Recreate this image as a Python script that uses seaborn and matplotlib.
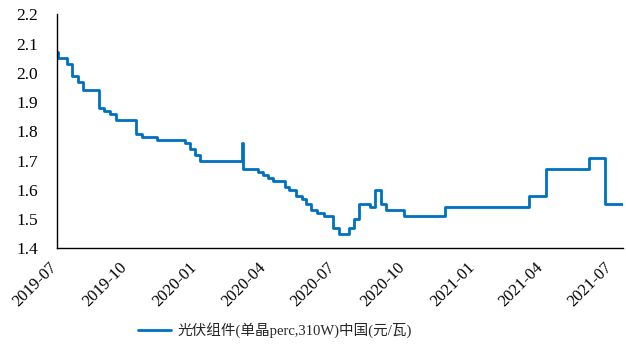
import matplotlib
matplotlib.use("Agg")
import matplotlib.pyplot as plt
import matplotlib.dates as mdates
import matplotlib.transforms as mtransforms
from matplotlib.ticker import MultipleLocator, FormatStrFormatter
import pandas as pd
import seaborn as sns

# Weekly module price quotes: date of each price change and the new price (元/瓦)
dates = [
    "2019-07-01", "2019-07-02", "2019-07-14", "2019-07-21", "2019-07-28",
    "2019-08-04", "2019-08-25", "2019-09-01", "2019-09-09", "2019-09-16",
    "2019-10-13", "2019-10-21", "2019-11-10", "2019-12-16", "2019-12-23",
    "2019-12-29", "2020-01-05", "2020-03-01", "2020-03-02", "2020-03-21",
    "2020-03-28", "2020-04-04", "2020-04-10", "2020-04-26", "2020-05-02",
    "2020-05-10", "2020-05-18", "2020-05-24", "2020-05-31", "2020-06-07",
    "2020-06-17", "2020-06-28", "2020-07-06", "2020-07-19", "2020-07-26",
    "2020-08-02", "2020-08-16", "2020-08-23", "2020-08-30", "2020-09-06",
    "2020-09-30", "2020-11-23", "2021-03-14", "2021-04-05", "2021-05-31",
    "2021-06-21", "2021-07-15",
]
prices = [
    2.07, 2.05, 2.03, 1.99, 1.97,
    1.94, 1.88, 1.87, 1.86, 1.84,
    1.79, 1.78, 1.77, 1.76, 1.74,
    1.72, 1.70, 1.76, 1.67, 1.66,
    1.65, 1.64, 1.63, 1.61, 1.60,
    1.58, 1.57, 1.55, 1.53, 1.52,
    1.51, 1.47, 1.45, 1.47, 1.50,
    1.55, 1.54, 1.60, 1.55, 1.53,
    1.51, 1.54, 1.58, 1.67, 1.71,
    1.55, 1.55,
]
series_label = "光伏组件(单晶perc,310W)中国(元/瓦)"
x_tick_dates = ["2019-07-01", "2019-10-01", "2020-01-01", "2020-04-01", "2020-07-01",
                "2020-10-01", "2021-01-01", "2021-04-01", "2021-07-01"]

df = pd.DataFrame({"date": pd.to_datetime(dates), "price": prices})

sns.set_theme(style="white")
plt.rcParams["font.family"] = ["Liberation Serif", "Noto Sans CJK SC", "DejaVu Sans"]

fig = plt.figure(figsize=(6.26, 3.47), dpi=100)
ax = fig.add_axes([0.0911, 0.2844, 0.9039, 0.6744])

sns.lineplot(data=df, x="date", y="price", ax=ax, color="#0070C0",
             linewidth=2.0, drawstyle="steps-post", label=series_label, legend=False)

ax.set_xlim(pd.Timestamp("2019-07-01"), pd.Timestamp("2021-07-15"))
ax.set_ylim(1.4, 2.2)
ax.yaxis.set_major_locator(MultipleLocator(0.1))
ax.yaxis.set_major_formatter(FormatStrFormatter("%.1f"))
ax.set_xticks(pd.to_datetime(x_tick_dates))
ax.xaxis.set_major_formatter(mdates.DateFormatter("%Y-%m"))
ax.set_xlabel("")
ax.set_ylabel("")

for side in ("top", "right"):
    ax.spines[side].set_visible(False)
for side in ("left", "bottom"):
    ax.spines[side].set_color("black")
    ax.spines[side].set_linewidth(1.0)

ax.tick_params(axis="both", which="major", direction="in", length=4, width=1,
               color="#555555", labelcolor="black")
ax.tick_params(axis="y", pad=13.5, labelsize=12.5)
ax.tick_params(axis="x", pad=8, labelsize=12)

# rotated date labels, nudged left so their ends sit just before each tick
shift = mtransforms.ScaledTranslation(-8 / 100, 0, fig.dpi_scale_trans)
for lbl in ax.get_xticklabels():
    lbl.set_rotation(45)
    lbl.set_ha("right")
    lbl.set_va("top")
    lbl.set_rotation_mode("anchor")
    lbl.set_transform(lbl.get_transform() + shift)

handles, labels = ax.get_legend_handles_labels()
fig.legend(handles, labels, loc="center", bbox_to_anchor=(0.4385, 0.049), frameon=False,
           fontsize=10.5, handlelength=2.3, handletextpad=0.4)

fig.savefig("out.png", dpi=100)
